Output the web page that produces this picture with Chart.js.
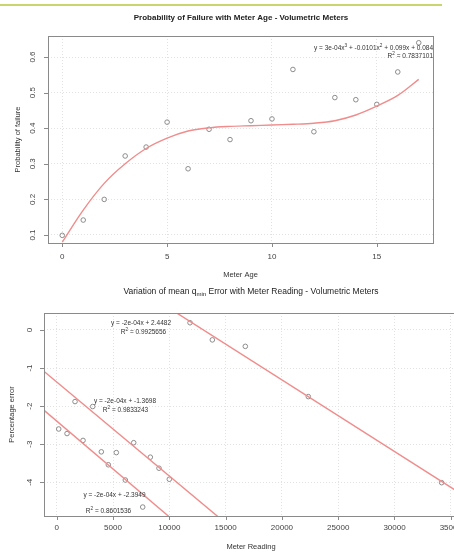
<!DOCTYPE html>
<html><head><meta charset="utf-8">
<script src="https://cdn.jsdelivr.net/npm/chart.js@4.4.0/dist/chart.umd.min.js"></script>
<style>
html,body{margin:0;padding:0;background:#fff;width:454px;height:552px;overflow:hidden;position:relative;}
#topbar{position:absolute;left:0;top:4px;width:442px;height:2px;background:#c9d670;}
#c1{position:absolute;left:0;top:0;}
#c2{position:absolute;left:0;top:276px;}
</style></head><body>
<div id="topbar"></div>
<canvas id="c1" width="454" height="285"></canvas>
<canvas id="c2" width="480" height="276"></canvas>
<script>
// ---------- Chart 1 data: Probability of failure vs meter age ----------
const meterAge = [0,1,2,3,4,5,6,7,8,9,10,11,12,13,14,15,16,17];
const failureProb = [0.099,0.142,0.200,0.322,0.347,0.417,0.286,0.397,0.368,0.421,0.426,0.565,0.390,0.486,0.480,0.467,0.558,0.640];
const fitAge = [0,1,2,3,4,5,6,7,8,9,10,11,12,13,14,15,16,17];
const fitProb = [0.080,0.170,0.245,0.300,0.343,0.372,0.392,0.401,0.405,0.407,0.409,0.411,0.414,0.421,0.437,0.462,0.492,0.537];
const ageTicks = [0,5,10,15];
const probTicks = [0.1,0.2,0.3,0.4,0.5,0.6];

// ---------- Chart 2 data: mean qmin error vs meter reading ----------
const readingA = [11840,13820,16750,22345,34190];
const errorA   = [0.19,-0.26,-0.43,-1.75,-4.01];
const readingB = [1625,3197,6838,8313,9085,10000];
const errorB   = [-1.88,-2.01,-2.96,-3.34,-3.63,-3.92];
const readingC = [178,915,2336,3961,4583,5293,6093,7638];
const errorC   = [-2.60,-2.72,-2.90,-3.20,-3.54,-3.22,-3.94,-4.65];
const fitReadingA = [10000,36000]; const fitErrorA = [0.57,-4.32];
const fitReadingB = [-1200,15000]; const fitErrorB = [-1.07,-5.07];
const fitReadingC = [-1200,11000]; const fitErrorC = [-2.09,-5.16];
const readingTicks = [0,5000,10000,15000,20000,25000,30000,35000];
const errorTicks = [0,-1,-2,-3,-4];

const FONT = '"Liberation Sans", Arial, sans-serif';
const pts = (xs, ys) => xs.map((x,i)=>({x:x,y:ys[i]}));

// draw text made of segments; seg = [text, isSuperscript]
function richText(ctx, segs, x, y, align, size){
  const base = size+'px '+FONT, sup = (size*0.72)+'px '+FONT;
  let w = 0;
  segs.forEach(s=>{ ctx.font = s[1]?sup:base; w += ctx.measureText(s[0]).width; });
  let cx = align==='right' ? x-w : (align==='left' ? x : x-w/2);
  ctx.textAlign='left'; ctx.textBaseline='middle';
  segs.forEach(s=>{
    ctx.font = s[1]?sup:base;
    ctx.fillText(s[0], cx, s[1]? y-size*0.4 : y);
    cx += ctx.measureText(s[0]).width;
  });
}

function rPlot(canvas, o){
  const plugin = {
    id:'rdecor',
    afterDraw(chart){
      const ctx = chart.ctx, a = chart.chartArea;
      const xs = chart.scales.x, ys = chart.scales.y;
      ctx.save();
      ctx.strokeStyle = '#8a8a8a'; ctx.lineWidth = 1;
      ctx.strokeRect(Math.round(a.left)+0.5, Math.round(a.top)+0.5, Math.round(a.right-a.left), Math.round(a.bottom-a.top));
      ctx.beginPath();
      o.xTicks.forEach(v=>{ const px=Math.round(xs.getPixelForValue(v))+0.5; ctx.moveTo(px,a.bottom); ctx.lineTo(px,a.bottom+4); });
      o.yTicks.forEach(v=>{ const py=Math.round(ys.getPixelForValue(v))+0.5; ctx.moveTo(a.left,py); ctx.lineTo(a.left-4,py); });
      ctx.stroke();
      ctx.fillStyle = '#444'; ctx.font = '8px '+FONT; ctx.textBaseline='middle'; ctx.textAlign='center';
      o.xTicks.forEach(v=>{ ctx.fillText(String(v), xs.getPixelForValue(v), o.xLabY); });
      o.yTicks.forEach(v=>{
        ctx.save(); ctx.translate(o.yLabX, ys.getPixelForValue(v)); ctx.rotate(-Math.PI/2);
        ctx.fillText(String(v),0,0); ctx.restore();
      });
      ctx.font = '7.5px '+FONT; ctx.fillStyle='#333';
      ctx.fillText(o.xTitle, (a.left+a.right)/2, o.xTitleY);
      ctx.save(); ctx.translate(o.yTitleX,(a.top+a.bottom)/2); ctx.rotate(-Math.PI/2);
      ctx.fillText(o.yTitle,0,0); ctx.restore();
      o.drawTitle(ctx, a);
      ctx.fillStyle = '#333';
      o.notes.forEach(n=>{ richText(ctx, n.segs, n.x, n.y, n.align||'center', 6.5); });
      ctx.restore();
    }
  };
  const scaleCommon = (ticks, min, max, fitFn) => ({
    type:'linear', min:min, max:max,
    ticks:{display:false},
    grid:{color:'#e2e2e2', lineWidth:1, drawTicks:false},
    border:{display:false, dash:[1,2]},
    afterBuildTicks:(s)=>{ s.ticks = ticks.map(v=>({value:v})); },
    afterFit: fitFn
  });
  return new Chart(canvas, {
    type:'scatter',
    data:{datasets:o.datasets},
    options:{
      responsive:false, animation:false, devicePixelRatio:1,
      layout:{padding:{top:o.padTop,right:o.padRight,left:0,bottom:0}},
      plugins:{legend:{display:false}, tooltip:{enabled:false}, title:{display:false}},
      scales:{
        x: scaleCommon(o.xTicks, o.xMin, o.xMax, s=>{ s.height = o.xAxisH; }),
        y: scaleCommon(o.yTicks, o.yMin, o.yMax, s=>{ s.width = o.yAxisW; })
      }
    },
    plugins:[plugin]
  });
}

const ptStyle = {type:'scatter', showLine:false, pointRadius:2.3, pointBorderWidth:1, pointBorderColor:'#8c8c8c', pointBackgroundColor:'rgba(0,0,0,0)', pointStyle:'circle'};
const lineStyle = {type:'scatter', showLine:true, pointRadius:0, borderColor:'#f08c8c', borderWidth:1.4, clip:0, fill:false};

// Chart 1
rPlot(document.getElementById('c1'), {
  xMin:-0.68, xMax:17.68, yMin:0.0775, yMax:0.659,
  xTicks:ageTicks, yTicks:probTicks,
  padTop:36, padRight:21, xAxisH:42, yAxisW:48,
  xLabY:257, yLabX:33, xTitleY:275, yTitleX:18,
  xTitle:'Meter Age', yTitle:'Probability of failure',
  datasets:[
    Object.assign({data:pts(fitAge,fitProb), tension:0.35}, lineStyle),
    Object.assign({data:pts(meterAge,failureProb)}, ptStyle)
  ],
  drawTitle(ctx,a){
    ctx.font='bold 8px '+FONT; ctx.fillStyle='#222'; ctx.textAlign='center'; ctx.textBaseline='middle';
    ctx.fillText('Probability of Failure with Meter Age - Volumetric Meters', 241, 18);
  },
  notes:[
    {segs:[['y = 3e-04x'],['3',1],[' + -0.0101x'],['2',1],[' + 0.099x + 0.084']], x:433, y:48, align:'right'},
    {segs:[['R'],['2',1],[' = 0.7837101']], x:433, y:56, align:'right'}
  ]
});

// Chart 2
rPlot(document.getElementById('c2'), {
  xMin:-1130, xMax:35640, yMin:-4.885, yMax:0.446,
  xTicks:readingTicks, yTicks:errorTicks,
  padTop:37, padRight:22, xAxisH:36, yAxisW:44,
  xLabY:252, yLabX:30, xTitleY:271, yTitleX:12,
  xTitle:'Meter Reading', yTitle:'Percentage error',
  datasets:[
    Object.assign({data:pts(fitReadingA,fitErrorA)}, lineStyle),
    Object.assign({data:pts(fitReadingB,fitErrorB)}, lineStyle),
    Object.assign({data:pts(fitReadingC,fitErrorC)}, lineStyle),
    Object.assign({data:pts(readingA,errorA)}, ptStyle),
    Object.assign({data:pts(readingB,errorB)}, ptStyle),
    Object.assign({data:pts(readingC,errorC)}, ptStyle)
  ],
  drawTitle(ctx,a){
    ctx.fillStyle='#222'; ctx.textBaseline='middle'; ctx.textAlign='left';
    const big='8.5px '+FONT, small='6px '+FONT;
    const p1='Variation of mean q', sub='min', p2=' Error with Meter Reading - Volumetric Meters';
    ctx.font=big; const w1=ctx.measureText(p1).width, w3=ctx.measureText(p2).width;
    ctx.font=small; const w2=ctx.measureText(sub).width;
    let x = 251 - (w1+w2+w3)/2, y = 16;
    ctx.font=big; ctx.fillText(p1,x,y); x+=w1;
    ctx.font=small; ctx.fillText(sub,x,y+2.5); x+=w2;
    ctx.font=big; ctx.fillText(p2,x,y);
  },
  notes:[
    {segs:[['y = -2e-04x + 2.4482']], x:141, y:47.5},
    {segs:[['R'],['2',1],[' = 0.9925656']], x:143.5, y:56},
    {segs:[['y = -2e-04x + -1.3698']], x:125, y:125.5},
    {segs:[['R'],['2',1],[' = 0.9833243']], x:125.5, y:134},
    {segs:[['y = -2e-04x + -2.3949']], x:114.5, y:219.7},
    {segs:[['R'],['2',1],[' = 0.8601536']], x:108.5, y:235}
  ]
});
</script>
</body></html>
